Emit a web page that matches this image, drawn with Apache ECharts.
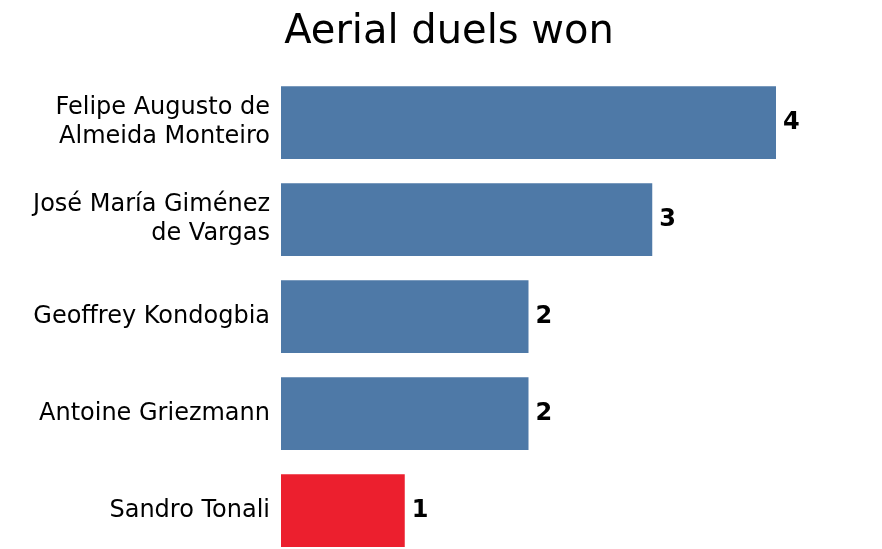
<!DOCTYPE html>
<html>
<head>
<meta charset="utf-8">
<script src="https://cdn.jsdelivr.net/npm/echarts@6/dist/echarts.min.js"></script>
<style>
  html, body { margin: 0; padding: 0; background: #fff; }
  #main { width: 882px; height: 549px; }
</style>
</head>
<body>
<div id="main"></div>
<script>
// players from top to bottom
const players = [
  'Felipe Augusto de\nAlmeida Monteiro',
  'José María Giménez\nde Vargas',
  'Geoffrey Kondogbia',
  'Antoine Griezmann',
  'Sandro Tonali'
];
const duelsWon = [4, 3, 2, 2, 1];
const highlight = 'Sandro Tonali';

const chart = echarts.init(document.getElementById('main'));

const option = {
  animation: false,
  textStyle: { fontFamily: 'DejaVu Sans' },
  title: {
    text: 'Aerial duels won',
    left: 444,
    top: 8,
    textAlign: 'center',
    textStyle: { fontFamily: 'DejaVu Sans', fontSize: 40, fontWeight: 'normal', color: '#000' }
  },
  grid: { left: 281, right: 106, top: 74, height: 485, outerBoundsMode: 'none', containLabel: false },
  xAxis: {
    type: 'value',
    min: 0,
    max: 4,
    show: false
  },
  yAxis: {
    type: 'category',
    inverse: true,
    data: players,
    axisLine: { show: false },
    axisTick: { show: false },
    splitLine: { show: false },
    axisLabel: {
      margin: 11,
      fontFamily: 'DejaVu Sans',
      fontSize: 24,
      lineHeight: 29,
      color: '#000'
    }
  },
  series: [
    {
      type: 'bar',
      barCategoryGap: '25%',
      data: duelsWon.map((v, i) => ({
        value: v,
        itemStyle: { color: players[i] === highlight ? '#ec1f2e' : '#4e79a7' }
      })),
      label: {
        show: true,
        position: 'right',
        distance: 7,
        fontFamily: 'DejaVu Sans',
        fontSize: 24,
        fontWeight: 'bold',
        color: '#000'
      }
    }
  ]
};

chart.setOption(option);
</script>
</body>
</html>
